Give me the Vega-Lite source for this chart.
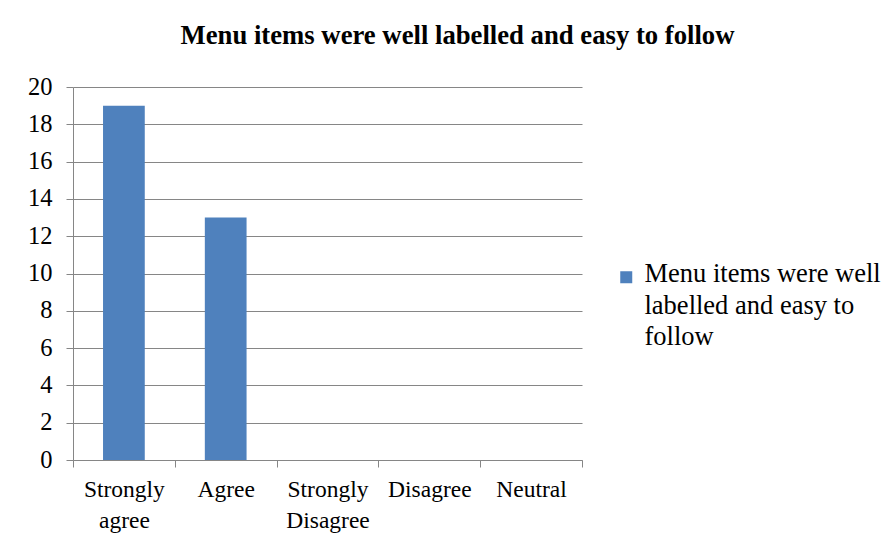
{
  "$schema": "https://vega.github.io/schema/vega-lite/v6.json",
  "autosize": "none",
  "width": 509,
  "height": 373,
  "padding": {"left": 73, "top": 87, "right": 312, "bottom": 90},
  "background": "white",
  "title": {
    "text": "Menu items were well labelled  and easy to follow",
    "font": "Liberation Serif",
    "fontSize": 26.7,
    "fontWeight": "bold",
    "color": "#000000",
    "anchor": "middle",
    "frame": "group",
    "dx": 130,
    "offset": 24
  },
  "data": {
    "values": [
      {"response": "Strongly agree", "count": 19, "series": "Menu items were well labelled and easy to follow"},
      {"response": "Agree", "count": 13, "series": "Menu items were well labelled and easy to follow"},
      {"response": "Strongly Disagree", "count": 0, "series": "Menu items were well labelled and easy to follow"},
      {"response": "Disagree", "count": 0, "series": "Menu items were well labelled and easy to follow"},
      {"response": "Neutral", "count": 0, "series": "Menu items were well labelled and easy to follow"}
    ]
  },
  "mark": {"type": "bar", "width": {"band": 0.41}},
  "encoding": {
    "x": {
      "field": "response",
      "type": "nominal",
      "sort": null,
      "scale": {"paddingInner": 0, "paddingOuter": 0},
      "axis": {
        "title": null,
        "labelAngle": 0,
        "labelExpr": "split(datum.label, ' ')",
        "labelFont": "Liberation Serif",
        "labelFontSize": 23.5,
        "labelColor": "#000000",
        "labelPadding": 10,
        "labelLineHeight": 31,
        "tickBand": "extent",
        "tickSize": 7,
        "tickColor": "#868686",
        "domainColor": "#868686",
        "grid": false
      }
    },
    "y": {
      "field": "count",
      "type": "quantitative",
      "scale": {"domain": [0, 20], "nice": false},
      "axis": {
        "title": null,
        "values": [0, 2, 4, 6, 8, 10, 12, 14, 16, 18, 20],
        "labelFont": "Liberation Serif",
        "labelFontSize": 24.5,
        "labelColor": "#000000",
        "labelPadding": 14,
        "tickSize": 7,
        "tickColor": "#868686",
        "domainColor": "#868686",
        "gridColor": "#868686",
        "gridWidth": 1
      }
    },
    "color": {
      "field": "series",
      "type": "nominal",
      "scale": {"range": ["#4F81BD"]},
      "legend": {
        "title": null,
        "orient": "none",
        "legendX": 540,
        "legendY": 177,
        "symbolType": "square",
        "symbolSize": 144,
        "symbolStrokeWidth": 0,
        "labelExpr": "['Menu items were well', 'labelled and easy to', 'follow']",
        "labelFont": "Liberation Serif",
        "labelFontSize": 26.5,
        "labelBaseline": "top",
        "labelColor": "#000000",
        "labelLimit": 400,
        "labelOffset": 5,
        "encode": {"labels": {"update": {"dy": {"value": -16}}}}
      }
    }
  },
  "config": {
    "font": "Liberation Serif",
    "view": {"stroke": null},
    "style": {"guide-label": {"font": "Liberation Serif", "lineHeight": 31.5}}
  }
}
